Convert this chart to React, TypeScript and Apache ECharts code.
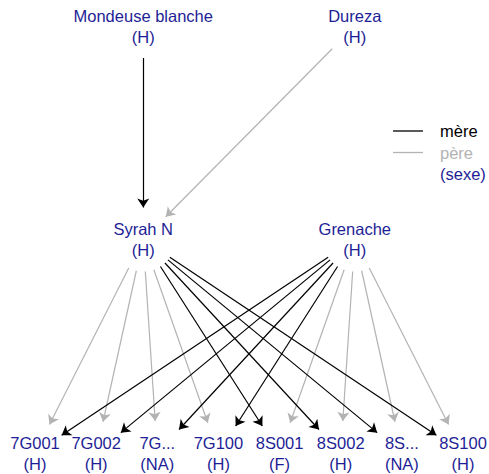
import React, { useEffect, useRef } from "react";
import * as echarts from "echarts";

// ---- data ----
const nodeNames = [
  "Mondeuse blanche", "Dureza", "Syrah N", "Grenache",
  "7G001", "7G002", "7G...", "7G100", "8S001", "8S002", "8S...", "8S100",
];
const nodeSexes = ["H", "H", "H", "H", "H", "H", "NA", "H", "F", "H", "NA", "H"];
const nodeColumn = [2.77, 6.23, 2.77, 6.23, 1, 2, 3, 4, 5, 6, 7, 8];
const nodeGeneration = [1, 1, 2, 2, 3, 3, 3, 3, 3, 3, 3, 3];

const childNames = ["Syrah N", "7G001", "7G002", "7G...", "7G100", "8S001", "8S002", "8S...", "8S100"];
const childMothers = ["Mondeuse blanche", "Grenache", "Grenache", "Grenache", "Grenache", "Syrah N", "Syrah N", "Syrah N", "Syrah N"];
const childFathers = ["Dureza", "Syrah N", "Syrah N", "Syrah N", "Syrah N", "Grenache", "Grenache", "Grenache", "Grenache"];

const legendLabels = ["mère", "père", "(sexe)"];

const MOTHER_COLOR = "#000000";
const FATHER_COLOR = "#b3b3b3";
const TEXT_BLUE = "#1e1e96";
const FONT = "'Liberation Sans', Arial, Helvetica, sans-serif";

export default function App() {
  const ref = useRef<HTMLDivElement>(null);

  useEffect(() => {
    if (!ref.current) return;
    const chart = echarts.init(ref.current, undefined, { renderer: "svg" });

    const nodes = nodeNames.map((name, i) => ({
      name,
      value: [nodeColumn[i], nodeGeneration[i]],
      sex: nodeSexes[i],
    }));

    const links: any[] = [];
    childNames.forEach((child, i) => {
      links.push({ source: childFathers[i], target: child, lineStyle: { color: FATHER_COLOR } });
    });
    childNames.forEach((child, i) => {
      links.push({ source: childMothers[i], target: child, lineStyle: { color: MOTHER_COLOR } });
    });

    const legendX = 393;
    const legendY0 = 131;
    const legendStep = 21.5;

    chart.setOption({
      animation: false,
      grid: { left: 35, right: 26, top: 26, bottom: 21 },
      xAxis: { type: "value", min: 1, max: 8, show: false },
      yAxis: { type: "value", min: 1, max: 3, inverse: true, show: false },
      series: [
        {
          type: "graph",
          coordinateSystem: "cartesian2d",
          xAxisIndex: 0,
          yAxisIndex: 0,
          silent: true,
          data: nodes,
          links,
          symbol: "circle",
          symbolSize: 64,
          itemStyle: { color: "rgba(0,0,0,0)" },
          label: {
            show: true,
            position: "inside",
            color: TEXT_BLUE,
            fontSize: 16.5,
            lineHeight: 21,
            fontFamily: FONT,
            align: "center",
            formatter: (p: any) => `${p.name}\n(${p.data.sex})`,
          },
          edgeSymbol: ["circle", "arrow"],
          edgeSymbolSize: [0, 9],
          lineStyle: { width: 1.2, opacity: 1, curveness: 0 },
          emphasis: { disabled: true },
        },
      ],
      graphic: [
        {
          type: "line",
          shape: { x1: legendX, y1: legendY0, x2: legendX + 30, y2: legendY0 },
          style: { stroke: MOTHER_COLOR, lineWidth: 1.3 },
        },
        {
          type: "line",
          shape: { x1: legendX, y1: legendY0 + legendStep, x2: legendX + 30, y2: legendY0 + legendStep },
          style: { stroke: FATHER_COLOR, lineWidth: 1.3 },
        },
        ...legendLabels.map((t, i) => ({
          type: "text",
          x: 440,
          y: legendY0 + i * legendStep,
          style: {
            text: t,
            fill: i === 0 ? MOTHER_COLOR : i === 1 ? FATHER_COLOR : TEXT_BLUE,
            font: `16.5px ${FONT}`,
            textAlign: "left",
            textVerticalAlign: "middle",
          },
        })),
      ],
    });

    return () => chart.dispose();
  }, []);

  return (
    <div
      ref={ref}
      style={{ position: "fixed", left: 0, top: 0, width: 489, height: 474, background: "#fff" }}
    />
  );
}
